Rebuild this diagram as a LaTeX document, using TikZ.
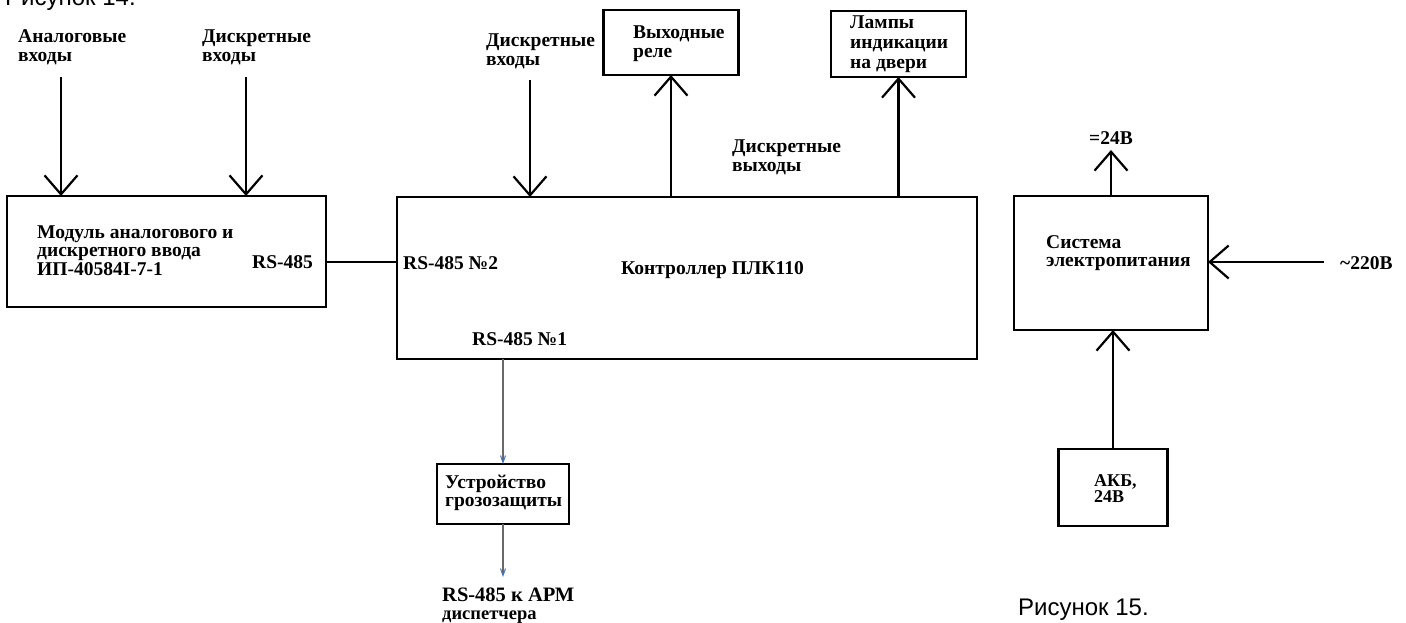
\documentclass[tikz,border=0pt]{standalone}
\usepackage{fontspec}
\setmainfont{Liberation Serif}
\newfontfamily\capfont{Liberation Sans}
\usetikzlibrary{arrows.meta}
\definecolor{lgray}{RGB}{105,105,105}
\definecolor{tipblue}{RGB}{68,114,196}
\newcommand\twol[2]{\vtop{\hbox{#1}\hbox{#2}}}
\newcommand\threel[3]{\vtop{\hbox{#1}\hbox{#2}\hbox{#3}}}
\begin{document}
\begin{tikzpicture}[x=1pt,y=-1pt,
  blk/.style={draw=black, line width=2.3pt, inner sep=0pt, outer sep=0pt},
  lbl/.style={font=\bfseries\fontsize{19.5}{18.5}\selectfont, inner sep=0pt, anchor=base west},
  arr/.style={line width=2.2pt, -{Straight Barb[length=19pt,width=33pt]}},
  thinarr/.style={draw=lgray, line width=1.5pt, -{Straight Barb[length=7pt,width=5pt,color=tipblue,line width=1pt]}},
  plain/.style={line width=2.2pt}]
\useasboundingbox (0,0) rectangle (1406,623);

% boxes
\node[blk, minimum width=319pt, minimum height=111pt] (mod) at (166.5,251.5) {};
\node[blk, minimum width=580pt, minimum height=162pt] (plc) at (687,278) {};
\node[blk, minimum width=135pt, minimum height=65pt] (rel) at (671,42.5) {};
\node[blk, minimum width=135pt, minimum height=66pt] (lamp) at (898.5,44) {};
\node[blk, minimum width=132pt, minimum height=60pt] (grz) at (503,494) {};
\node[blk, minimum width=194pt, minimum height=134pt] (pwr) at (1111,263) {};
\node[blk, minimum width=109pt, minimum height=77pt] (akb) at (1113,487.5) {};

% connector ends
\coordinate (ai) at (61,77);
\coordinate (di) at (246,77);
\coordinate (ci) at (530,80);
\coordinate (r2) at (330,262);
\coordinate (apm) at (503,577);
\coordinate (p24) at (1111,150);
\coordinate (ac) at (1324,262);

% connectors
\draw[arr] (ai) -- (ai |- mod.north);
\draw[arr] (di) -- (di |- mod.north);
\draw[arr] (ci) -- (ci |- plc.north);
\draw[arr] (plc.north -| rel.south) -- (rel.south);
\draw[arr] (plc.north -| lamp.south) -- (lamp.south);
\draw[plain] (mod.east |- r2) -- (plc.west |- r2);
\draw[thinarr] (plc.south -| grz.north) -- (grz.north);
\draw[thinarr] (grz.south) -- (apm);
\draw[arr] (pwr.north) -- (p24);
\draw[arr] (ac) -- (ac -| pwr.east);
\draw[arr] (akb.north) -- (akb.north |- pwr.south);

% texts
\node[lbl] (tAn) at (18,43) {\twol{Аналоговые}{входы}};
\node[lbl] (tDi1) at (202,43) {\twol{Дискретные}{входы}};
\node[lbl] (tDi2) at (486,47) {\twol{Дискретные}{входы}};
\node[lbl] (tDo) at (732,153) {\twol{Дискретные}{выходы}};
\node[lbl] (tRel) at (633,39) {\twol{Выходные}{реле}};
\node[lbl] (tLamp) at (850,29) {\vtop{\baselineskip=20pt\hbox{Лампы}\hbox{индикации}\hbox{на двери}}};
\node[lbl] (tMod) at (37,238) {\threel{Модуль аналогового и}{дискретного ввода}{ИП-40584I-7-1}};
\node[lbl] (tR) at (252,268) {RS-485};
\node[lbl] (tR2) at (403,269) {RS-485 №2};
\node[lbl] (tPlc) at (621,274) {Контроллер ПЛК110};
\node[lbl] (tR1) at (472,345) {RS-485 №1};
\node[lbl] (tGrz) at (445,488) {\twol{Устройство}{грозозащиты}};
\node[lbl] (tApm) at (442,601) {\vtop{\fontsize{20.5}{18}\selectfont\hbox{RS-485 к АРМ}\hbox{\fontsize{18.5}{18}\selectfont диспетчера}}};
\node[lbl, anchor=base] (t24) at (1111,145) {=24В};
\node[lbl] (t220) at (1340,269) {\textasciitilde220В};
\node[lbl] (tPwr) at (1046,248) {\twol{Система}{электропитания}};
\node[lbl] (tAkb) at (1094,486) {\vtop{\fontsize{18}{16.5}\selectfont\hbox{АКБ,}\hbox{24В}}};
\node[anchor=base west, inner sep=0pt, font=\capfont\fontsize{24}{24}\selectfont] (f15) at (1018,615) {Рисунок 15.};
\node[anchor=base west, inner sep=0pt, font=\capfont\fontsize{24}{24}\selectfont] (f14) at (5,6) {Рисунок 14.};
\end{tikzpicture}
\end{document}
